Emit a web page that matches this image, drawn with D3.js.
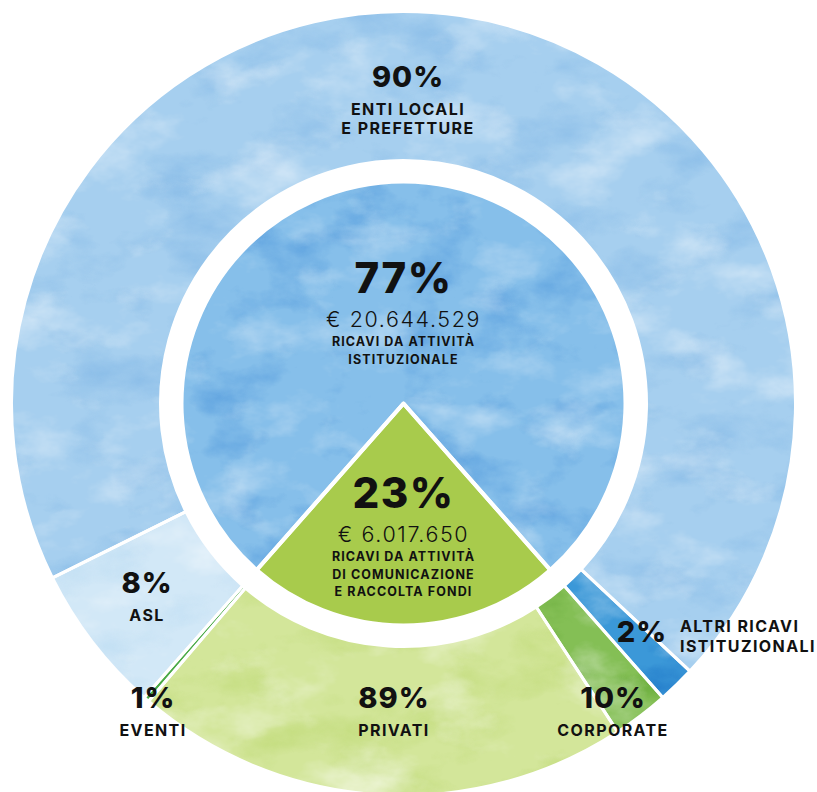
<!DOCTYPE html>
<html>
<head>
<meta charset="utf-8">
<script src="https://cdn.jsdelivr.net/npm/d3@7"></script>
<style>
  html, body { margin: 0; padding: 0; background: #fff; }
  svg { display: block; }
  text { font-family: Inter, "Open Sans", sans-serif; fill: #111; }
</style>
</head>
<body>
<div id="chart"></div>
<script>
// main split (inner pie)
const groups = ['istituzionale', 'comunicazione'];
const groupShares = [77, 23];
const groupAmounts = ['€ 20.644.529', '€ 6.017.650'];
const groupLabels = [['RICAVI DA ATTIVITÀ', 'ISTITUZIONALE'], ['RICAVI DA ATTIVITÀ', 'DI COMUNICAZIONE', 'E RACCOLTA FONDI']];

// breakdown of the institutional revenue (% of 77)
const istNames = ['ASL', 'ENTI LOCALI', 'ALTRI'];
const istShares = [8, 90, 2];
const istLabels = [['ASL'], ['ENTI LOCALI', 'E PREFETTURE'], ['ALTRI RICAVI', 'ISTITUZIONALI']];

// breakdown of fundraising revenue (% of 23)
const comNames = ['CORPORATE', 'PRIVATI', 'EVENTI'];
const comShares = [10, 89, 1];
const comLabels = [['CORPORATE'], ['PRIVATI'], ['EVENTI']];

const width = 817, height = 792;
const cx = 403.5, cy = 403.5;
const rOuter = 392, rRingIn = 243, rPie = 222;

// colours
const innerColors = { istituzionale: '#86bfea', comunicazione: '#a8cb4c' };
const ringColors = {
  'CORPORATE': '#84bf55', 'PRIVATI': '#d3e69a', 'EVENTI': '#4aaa46',
  'ASL': '#d2e8f7', 'ENTI LOCALI': '#a6cfef', 'ALTRI': '#3b98d8'
};

// where the labels go (centre x, baseline of first line)
const labelPos = {
  'ENTI LOCALI': { x: 408, y: 87, anchor: 'middle' },
  'ASL': { x: 147, y: 593, anchor: 'middle' },
  'EVENTI': { x: 153, y: 708, anchor: 'middle' },
  'PRIVATI': { x: 394, y: 708, anchor: 'middle' },
  'CORPORATE': { x: 613, y: 708, anchor: 'middle' },
  'ALTRI': { x: 642, y: 642, anchor: 'side' }
};

const svg = d3.select('#chart').append('svg')
  .attr('width', width)
  .attr('height', height);

// watercolour-ish texture
const defs = svg.append('defs');
function texture(id, deepAmp, lightAmp, freq, seed) {
  const f = defs.append('filter').attr('id', id)
    .attr('x', '-5%').attr('y', '-5%').attr('width', '110%').attr('height', '110%')
    .attr('color-interpolation-filters', 'sRGB');
  f.append('feTurbulence').attr('type', 'fractalNoise').attr('baseFrequency', freq)
    .attr('numOctaves', 5).attr('seed', seed).attr('result', 'n');
  f.append('feColorMatrix').attr('in', 'n').attr('type', 'matrix')
    .attr('values', '0 0 0 0 0  0 0 0 0 0  0 0 0 0 0  ' + (deepAmp * 4) + ' 0 0 0 ' + (-deepAmp * 2)).attr('result', 'mA');
  const ct = f.append('feComponentTransfer').attr('in', 'SourceGraphic').attr('result', 'deep');
  ['feFuncR', 'feFuncG', 'feFuncB'].forEach(fn => ct.append(fn).attr('type', 'gamma').attr('amplitude', 1).attr('exponent', 1.6));
  f.append('feComposite').attr('in', 'deep').attr('in2', 'mA').attr('operator', 'in').attr('result', 'deepM');
  f.append('feColorMatrix').attr('in', 'n').attr('type', 'matrix')
    .attr('values', '0 0 0 0 1  0 0 0 0 1  0 0 0 0 1  0 ' + (-lightAmp * 4) + ' 0 0 ' + (lightAmp * 2)).attr('result', 'lA');
  f.append('feComposite').attr('in', 'lA').attr('in2', 'SourceAlpha').attr('operator', 'in').attr('result', 'lightM');
  const fm = f.append('feMerge');
  fm.append('feMergeNode').attr('in', 'SourceGraphic');
  fm.append('feMergeNode').attr('in', 'deepM');
  fm.append('feMergeNode').attr('in', 'lightM');
}
texture('wc', 0.45, 0.3, '0.012 0.02', 11);
texture('wcInner', 0.6, 0.25, '0.014 0.022', 3);

const g = svg.append('g').attr('transform', 'translate(' + cx + ',' + cy + ')');

// green part centred on the bottom
const comSpan = groupShares[1] / 100 * 2 * Math.PI;
const start = Math.PI - comSpan / 2;

// outer ring: fundraising pieces then institutional pieces, clockwise
const ringData = [];
comNames.forEach((n, i) => ringData.push({ name: n, value: groupShares[1] * comShares[i] / 100, pct: comShares[i], lines: comLabels[i] }));
istNames.forEach((n, i) => ringData.push({ name: n, value: groupShares[0] * istShares[i] / 100, pct: istShares[i], lines: istLabels[i] }));

const ringPie = d3.pie().sort(null).value(d => d.value)
  .startAngle(start).endAngle(start + 2 * Math.PI);
const ringArc = d3.arc().innerRadius(rRingIn).outerRadius(rOuter);

const innerData = groups.map((n, i) => ({ name: n, value: groupShares[i] }));
// green first so that it starts at `start`
const innerPie = d3.pie().sort(null).value(d => d.value)
  .startAngle(start).endAngle(start + 2 * Math.PI);
const innerArc = d3.arc().innerRadius(0).outerRadius(rPie);
const innerArcs = innerPie([innerData[1], innerData[0]]);
const ringArcs = ringPie(ringData);

g.append('g').attr('filter', 'url(#wc)')
  .selectAll('.ring')
  .data(ringArcs)
  .enter().append('path')
  .attr('class', 'ring')
  .attr('d', ringArc)
  .attr('fill', d => ringColors[d.data.name]);

const innerG = g.append('g');
innerG.append('path')
  .datum(innerArcs[1])
  .attr('d', innerArc)
  .attr('fill', innerColors.istituzionale)
  .attr('filter', 'url(#wcInner)');
innerG.append('path')
  .datum(innerArcs[0])
  .attr('d', innerArc)
  .attr('fill', innerColors.comunicazione);

// white separators on top
const seps = g.append('g').attr('fill', 'none').attr('stroke', '#fff').attr('stroke-linejoin', 'round');
seps.selectAll('path.rs').data(ringArcs).enter().append('path').attr('class', 'rs')
  .attr('d', ringArc).attr('stroke-width', 3);
seps.selectAll('path.is').data(innerArcs).enter().append('path').attr('class', 'is')
  .attr('d', innerArc).attr('stroke-width', 4);

// labels of the ring
ringData.forEach(d => {
  const p = labelPos[d.name];
  const side = p.anchor === 'side';
  svg.append('text').attr('x', p.x).attr('y', p.y).attr('text-anchor', 'middle')
    .style('font-size', '29px').style('font-weight', 800).style('letter-spacing', '1px')
    .text(d.pct + '%');
  d.lines.forEach((l, i) => {
    svg.append('text')
      .attr('x', side ? p.x + 38 : p.x)
      .attr('y', side ? p.y - 10 + i * 20 : p.y + 28 + i * 19)
      .attr('text-anchor', side ? 'start' : 'middle')
      .style('font-size', '16px').style('font-weight', 700).style('letter-spacing', '1.4px')
      .text(l);
  });
});

// labels of the inner pie
const innerTop = [293, 508];
groups.forEach((n, i) => {
  const y0 = innerTop[i];
  svg.append('text').attr('x', cx).attr('y', y0).attr('text-anchor', 'middle')
    .style('font-size', '42px').style('font-weight', 800).style('letter-spacing', '1.5px')
    .text(groupShares[i] + '%');
  svg.append('text').attr('x', cx).attr('y', y0 + 34).attr('text-anchor', 'middle')
    .style('font-size', '21.5px').style('font-weight', 300).style('letter-spacing', '1.6px')
    .text(groupAmounts[i]);
  groupLabels[i].forEach((l, j) => {
    svg.append('text').attr('x', cx).attr('y', y0 + 53 + j * 17.5).attr('text-anchor', 'middle')
      .style('font-size', '12.5px').style('font-weight', 700).style('letter-spacing', '1.1px')
      .text(l);
  });
});
</script>
</body>
</html>
